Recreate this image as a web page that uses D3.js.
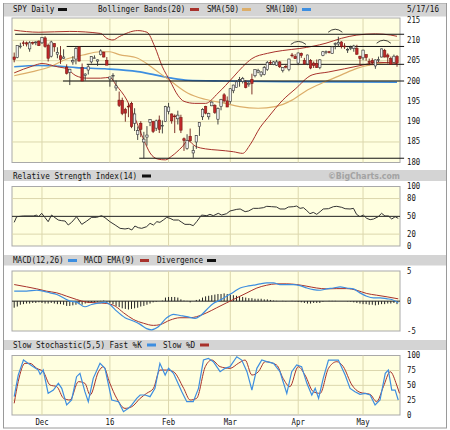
<!DOCTYPE html>
<html><head><meta charset="utf-8">
<script src="https://cdn.jsdelivr.net/npm/d3@7"></script>
<style>body{margin:0;background:#fff}svg{display:block}</style>
</head><body><svg id="c" width="450" height="430"></svg>
<script>
// ---------------- DATA ----------------
const monthTickIdx = [9, 31, 50, 70, 92, 113];
const monthTickLabels = ["Dec", "16", "Feb", "Mar", "Apr", "May"];
const priceTicks = [215, 210, 205, 200, 195, 190, 185, 180];
const rsiTicks = [100, 80, 50, 20, 0];
const macdTicks = [5, 0, -5];
const stochTicks = [100, 75, 50, 25, 0];

const opens = [205.9,205.8,208.6,209.4,209.4,207.9,209.5,209.4,209.8,
 209.4,210.6,208.8,206.1,209.2,206.6,206.2,205.6,203.4,202.1,204.7,205.4,208.4,203.3,201.4,202.7,204.7,205.7,204.9,206.5,207.1,205.1,
 200.5,201.4,198.3,195.3,195.2,193.0,193.8,194.5,189.6,186.8,189.6,185.0,186.2,189.8,190.0,188.4,190.4,189.0,190.0,
 192.5,191.9,191.4,190.7,191.0,185.8,183.4,186.4,182.3,185.0,188.8,191.2,193.7,191.2,193.9,194.0,190.6,193.7,196.6,195.1,
 195.0,197.6,198.4,200.3,199.9,199.6,199.1,200.4,201.3,202.2,201.5,201.6,202.8,204.6,204.1,203.9,204.7,202.6,203.6,202.8,206.4,206.0,
 204.4,206.8,205.1,204.2,205.0,204.4,204.3,203.3,206.3,207.0,207.2,206.8,209.1,209.1,209.6,208.6,207.8,208.1,208.0,208.0,206.1,
 205.7,206.5,204.8,205.0,203.7,205.2,205.9,207.5,206.4,205.5,204.6,206.0];
const highs = [207.0,208.7,209.4,209.9,209.7,209.8,209.7,209.8,210.0,
 210.8,211.0,209.2,209.9,209.3,208.3,208.6,207.8,204.1,203.0,206.1,208.5,208.5,204.3,201.9,203.9,206.1,206.3,205.3,207.8,207.2,205.9,
 201.0,201.9,200.1,197.4,195.9,193.4,194.6,194.9,193.3,188.8,190.1,187.5,188.9,190.6,190.2,190.5,191.5,190.3,193.9,
 194.6,192.0,191.8,192.7,191.7,186.1,186.9,188.3,184.1,186.7,189.8,193.3,193.9,192.2,195.0,194.3,193.5,195.6,197.0,196.2,
 198.2,199.1,200.1,201.0,201.0,200.2,199.8,201.8,202.8,203.0,202.4,203.7,204.9,205.1,204.9,205.2,204.9,203.4,204.0,205.5,206.9,206.6,
 207.0,207.0,205.7,206.5,205.4,204.8,205.3,205.4,207.4,207.5,207.4,208.5,209.5,210.9,209.8,209.3,208.2,208.7,208.9,208.9,206.2,
 207.7,206.6,205.5,205.6,205.3,206.0,208.0,207.9,206.8,206.0,206.5,206.4];
const lows = [204.6,205.6,208.0,208.6,208.5,207.2,208.9,208.8,208.6,
 209.1,208.2,204.8,205.8,207.2,205.6,204.2,205.5,201.6,199.0,204.0,204.1,204.8,200.0,200.1,201.6,204.3,205.5,203.7,206.3,205.8,203.9,
 198.6,200.1,197.6,193.6,191.6,190.0,191.1,188.4,187.7,185.5,186.2,181.0,184.1,188.9,187.2,187.7,187.2,187.1,189.9,
 191.8,189.5,187.2,189.3,187.2,182.8,183.1,185.1,181.1,183.3,186.5,190.4,191.8,190.5,193.8,191.9,189.3,192.8,194.7,193.6,
 194.4,197.0,198.4,198.6,199.4,198.2,198.6,196.7,200.9,201.9,201.0,201.4,202.5,204.0,203.9,203.7,203.2,202.1,203.1,202.4,205.8,205.4,
 203.9,205.7,204.0,203.9,202.9,203.2,203.2,202.9,206.1,206.6,206.8,206.7,207.8,208.4,208.0,207.9,206.9,207.6,207.2,206.4,204.0,
 205.1,205.0,203.9,203.9,203.0,204.6,205.8,205.8,204.3,204.0,204.5,203.5];
const closes = [205.3,208.7,208.6,209.3,209.1,209.4,209.3,209.6,208.7,
 210.7,208.5,205.6,209.6,208.4,207.0,205.3,205.9,201.9,202.9,205.0,208.0,204.9,200.0,201.7,203.5,206.0,205.7,205.2,207.4,205.9,203.9,
 201.0,201.4,198.8,194.0,192.0,192.1,193.7,188.8,191.9,187.8,188.1,185.7,186.7,190.5,187.6,190.2,188.1,189.1,193.7,
 193.6,190.2,191.3,191.6,187.9,185.4,185.4,185.3,182.9,186.6,189.8,193.0,192.1,192.0,194.8,192.3,193.2,195.5,195.1,193.6,
 198.1,199.0,199.8,200.4,200.6,198.4,199.4,199.4,202.8,202.6,202.2,203.3,204.6,204.4,204.7,204.7,203.5,203.3,203.5,205.4,206.3,205.5,
 206.9,206.3,204.2,206.4,203.2,203.8,203.3,205.2,207.2,207.2,207.1,208.4,209.2,209.5,208.5,208.5,207.8,208.2,208.6,206.6,205.5,
 207.6,205.8,204.6,204.5,205.2,205.3,207.9,205.9,205.9,204.1,206.1,204.4];

// [day index, value] readings
const bbUpper = [[0,212.5],[8,212.0],[18,212.2],[28,211.7],[30,210.5],[32,210.1],[34,210.9],[40,212.4],[43,212.0],[45.5,208.5],[48,203.5],[50.5,200],[53,196.5],[55,195.0],[58.5,194.5],[62,194.5],[66,197],[71,201],[74,203.5],[77,205.5],[82,206.8],[87,207.5],[92.5,208],[101,209.3],[106,210.5],[111,211.3],[117,211.6],[122,211.3],[124,211.0]];
const bbLower = [[0,202.0],[6,203.7],[9,204.3],[14,203.5],[17,203.0],[20,201.3],[23.5,200.7],[28,200.7],[31,200.9],[33,199.0],[36.5,195.3],[38.5,192],[42,185.5],[44,182.3],[46.5,180.8],[49,180.6],[51,181.5],[54.4,183.8],[56.3,185.3],[58.6,184.0],[62,183.3],[66,183.0],[71,182.6],[74,182.2],[76.4,184.3],[79.6,188.5],[82.2,191.0],[87,195.3],[91,198.0],[96.5,201.5],[101.7,202.2],[107,203.0],[112.7,203.9],[118,204.6],[124,204.3]];
const sma50 = [[0,201.3],[6,202.3],[11.6,203.5],[17,205.4],[22.3,206.4],[27.8,207.2],[31,207.2],[34,206.5],[40,205.6],[44,203.7],[47,202],[51,199.8],[56.3,197.0],[61.8,195.5],[68.3,194.5],[73,193.7],[79,193.3],[84.5,193.7],[90,195.3],[95,197.8],[100.7,199.8],[106,201.5],[111,203.1],[117,204.2],[124,204.7]];
const sma100 = [[0,203.5],[8,203.8],[15,203.6],[20,203.3],[29.4,203.0],[40,202.3],[45.6,201.5],[51,200.7],[56.3,200.2],[68,200.0],[87,199.8],[124,199.7]];

const supportLevels = [211.5, 208.5, 204.1, 200.0, 181.0];
const supportStartIdx = [0.3, 17, 23.5, 15.8, 40.5];
const supportEndIdx = 126.3;
const peakArcs = [[89.6,94.5,209.0],[101.7,106.3,212.0],[117.4,122,209.3]];

const rsi = [[0,39.9],[0.8,49.4],[3,50.6],[6.2,50.6],[7.3,52.2],[7.8,48.9],[8.9,55.1],[10,47.8],[11,41],[12.1,52.2],[13.2,47.8],[14.3,43.8],[15.4,42.7],[16.5,42.1],[17.5,35.4],[18.6,39.9],[20.2,49.4],[21.9,36.5],[23.5,42.1],[25.1,48.3],[26.7,48.3],[28.3,51.1],[29.4,47.8],[31,41],[32.7,35.4],[34.3,29.8],[35.9,28.7],[37,29.8],[38.1,27],[39.1,33.7],[40.2,30.9],[41.3,29.8],[42.9,32.6],[44,38.2],[45.1,35.4],[46.2,41],[47.2,39.9],[48.3,43.8],[49.4,48.3],[50.5,46.6],[51.6,43.8],[53.2,43.8],[54.3,39.9],[55.3,36.5],[56.9,36.5],[58,34.3],[59.1,41],[60.7,52.2],[62.4,51.1],[63.4,53.4],[64.5,51.1],[66.1,55.1],[67.2,52.2],[68.8,54.5],[69.9,59],[72.1,61.8],[73.2,62.4],[74.8,57.9],[75.9,59],[77.5,63.5],[79.1,63.5],[80.7,64.6],[81.8,66.9],[83.4,66.3],[85,65.7],[86.1,62.4],[87.7,62.4],[88.8,65.7],[90.4,66.3],[91.5,67.4],[92.6,63.5],[93.7,64.6],[94.8,59.6],[95.8,54.5],[96.9,56.7],[98,53.4],[99.1,57.9],[100.1,62.4],[101.8,62.9],[103.4,66.3],[104.5,66.9],[106.1,65.2],[107.2,62.9],[108.8,62.4],[109.9,63.5],[110.9,53.4],[112,49.4],[113.1,52.2],[114.2,46.6],[115.3,44.4],[116.4,45.5],[117.9,49.4],[119,55.1],[120.1,50.6],[121.2,50.6],[122.3,45.5],[123.4,49.4],[124.4,46.6]];

const macd = [[0,1.67],[4,1.67],[7.3,1.83],[9.4,1.67],[11.6,1.39],[13.8,1.11],[15.9,0.56],[18.1,0],[20.2,-0.17],[22.9,-0.94],[25.1,-0.56],[27.8,-0.28],[29.4,-0.17],[31,-0.56],[33.2,-1.67],[35.9,-2.78],[38.6,-3.33],[40.8,-3.89],[42.9,-4.6],[44.5,-4.8],[46.7,-4.3],[49.4,-2.78],[51.6,-2.2],[53.7,-2.4],[55.9,-2.6],[58.6,-2.9],[60.2,-2.5],[62.4,-1.39],[64.5,-0.39],[66.7,0.17],[68.8,0.83],[71,1.5],[73.2,2.2],[75.4,2.5],[77.5,2.67],[79.6,2.9],[81.8,3.06],[84,3.06],[86.1,2.78],[88.3,2.78],[90.4,2.78],[92.6,2.6],[94.8,2.2],[96.9,1.94],[99.1,1.83],[101.2,2.06],[103.4,2.2],[105.6,2.4],[107.7,2.2],[109.9,2.06],[112,1.39],[114.2,0.83],[116.4,0.56],[118.6,0.56],[120.8,0.39],[122.3,0.28],[124.4,-0.28]];
const macdSignal = [[0,2.78],[4,2.4],[7.3,2.06],[10.5,1.67],[13.8,1.39],[17,0.83],[20.2,0.28],[23.5,-0.17],[26.7,-0.28],[30,-0.39],[32.7,-0.83],[35.4,-1.94],[38.6,-3.06],[41.9,-3.7],[45.1,-4.06],[47.2,-3.94],[50.5,-3.17],[53.7,-2.78],[56.9,-2.78],[59.1,-2.6],[62.4,-1.94],[65.6,-1.11],[68.8,-0.28],[72.1,0.56],[75.4,1.39],[78.6,2.2],[81.8,2.67],[85,2.9],[88.3,2.9],[91.5,2.78],[94.8,2.5],[98,2.2],[101.2,2.06],[104.5,2.1],[107.7,2.1],[110.9,1.83],[114.2,1.28],[117.4,1.0],[120.8,0.72],[124.4,0.39]];
const divergence = [-1.1,-0.9,-0.6,-0.5,-0.4,-0.4,-0.3,-0.3,-0.2,-0.3,-0.4,-0.4,-0.3,-0.4,-0.5,-0.5,-0.6,-0.8,-0.8,-0.7,
 -0.6,-0.5,-0.6,-0.4,-0.3,-0.3,-0.2,-0.1,0.05,0.1,-0.1,-0.3,-0.5,-0.8,-1.0,-1.2,-1.3,-1.4,-1.3,-1.2,
 -1.1,-0.9,-0.8,-0.6,-0.4,-0.2,-0.1,0,0.1,0.6,0.7,0.7,0.7,0.6,0.3,0.1,0.05,-0.2,0,0.2,
 0.3,0.6,0.8,0.9,1.0,1.1,1.2,1.2,1.3,1.2,1.1,1.0,0.9,0.8,0.7,0.6,0.5,0.5,0.4,0.4,
 0.4,0.3,0.3,0.2,0.1,0.05,0,0.05,-0.05,0,0.05,-0.05,-0.1,-0.2,-0.3,-0.4,-0.4,-0.3,-0.3,-0.3,
 -0.1,0,0.05,0.05,0.05,0,0,0,-0.05,-0.1,-0.2,-0.3,-0.4,-0.5,-0.5,-0.6,-0.6,-0.7,-0.6,-0.5,
 -0.5,-0.4,-0.4,-0.3,-0.5];

const stochK = [[0,30.9],[1.3,67.4],[3,92.7],[4.6,87],[6.2,81.5],[7.8,75.8],[8.4,68.5],[9.4,75.8],[11,36.5],[12.7,42.1],[14.3,53.4],[15.4,44.9],[17,16.9],[18.6,25.3],[20.2,64.6],[21.3,70.2],[22.9,39.3],[24,22.5],[25.6,61.8],[27.8,87.1],[29.4,78.7],[31.6,25.3],[33.8,22.5],[35.4,5.6],[37,11.2],[38.1,16.9],[39.7,28.1],[40.8,33.7],[42.4,33.7],[44,30.9],[45.6,44.9],[47.2,87.1],[48.9,67.4],[50,78.7],[51.6,70.2],[54.3,39.3],[55.9,22.5],[58,22.5],[59.7,44.9],[61.3,92.7],[62.9,95.5],[64.5,89.9],[66.7,73],[68.3,78.7],[69.9,81.5],[72.1,98.3],[73.7,92.7],[75.4,73],[77,42.1],[78.6,78.7],[80.2,92.7],[81.8,89.9],[84,87.1],[86.1,73],[88.3,36.5],[89.9,73],[91.5,84.3],[93.1,81.5],[94.8,53.4],[96.4,33.7],[97.5,44.9],[98.6,28.1],[100.1,61.8],[101.8,92.7],[105,92.7],[107.2,67.4],[108.8,44.9],[110.4,39.3],[112,34.8],[113.7,36.5],[115.3,33.7],[116.9,16.9],[118.5,25.3],[120.2,70.2],[121.2,75.8],[122.3,42.1],[123.4,42.1],[124.4,25.3]];
const stochD = [[0,19.7],[1.3,56.2],[3.5,87.1],[5.1,87.1],[7.3,78.7],[9.4,73],[11.6,50.6],[13.8,47.8],[16,28.1],[18.1,25.3],[20.8,56.2],[22.9,53.4],[24.6,33.7],[27.3,73],[28.9,81.5],[31,53.4],[33.2,28.1],[35.9,11.2],[38.1,14],[40.8,28.1],[42.9,36.5],[45.1,44.9],[47.2,75.8],[49.4,75.8],[51.6,73],[54.9,44.9],[57,25.3],[59.1,28.1],[61.9,81.5],[64,92.7],[66.7,81.5],[69.9,78.7],[72.6,87.1],[74.8,92.7],[77,67.4],[79.1,73],[81.3,89.9],[85,84.3],[87.1,61.8],[89.3,47.8],[92,81.5],[94.2,67.4],[96.9,39.3],[99.1,36.5],[101.8,78.7],[104.5,89.9],[106.6,81.5],[109.4,50.6],[112,38.2],[115.3,34.8],[117.4,22.5],[119.6,47.8],[121.8,73],[123.9,50.6],[124.8,36.5]];

// ---------------- DRAWING ----------------
const svg = d3.select('#c');
const FONT = "'DejaVu Sans Mono', monospace";
const CW = 4.6;
const CREAM = '#ffffe0', GRID = '#dcd7ad';
const RED = '#a8322c', TAN = '#dcae6a', BLUE = '#3d8ee0';

svg.append('rect').attr('width',450).attr('height',430).attr('fill','#fff');
svg.append('rect').attr('x',3.5).attr('y',3.5).attr('width',443).attr('height',424.5)
  .attr('fill','none').attr('stroke','#9a9a9a');

function txt(x, y, s, o = {}) {
  return svg.append('text').attr('x', x).attr('y', y)
    .attr('font-family', o.family || FONT).attr('font-size', o.size || 8)
    .attr('font-weight', o.weight || 'normal')
    .attr('fill', o.fill || '#111').attr('text-anchor', o.anchor || 'start')
    .attr('dominant-baseline', 'central')
    .attr('textLength', o.len || s.length * CW).attr('lengthAdjust', 'spacingAndGlyphs')
    .text(s);
}
function swatch(x, y, c) {
  svg.append('rect').attr('x', x).attr('y', y - 1.5).attr('width', 9).attr('height', 3).attr('fill', c);
}
function header(y0, y1) {
  svg.append('rect').attr('x', 4).attr('y', y0).attr('width', 442).attr('height', y1 - y0).attr('fill', '#d4d4d4');
}

const x = d3.scaleLinear().domain([0, 124]).range([14.2, 397.0]);
const PX0 = 12, PX1 = 400;

function panel(y0, y1, yScale, ticks, gridVals) {
  const g = svg.append('g');
  g.append('rect').attr('x', PX0).attr('y', y0).attr('width', PX1 - PX0).attr('height', y1 - y0)
    .attr('fill', CREAM).attr('stroke', '#a9a9a9');
  gridVals.forEach(v => g.append('line').attr('x1', PX0).attr('x2', PX1)
    .attr('y1', yScale(v)).attr('y2', yScale(v)).attr('stroke', GRID));
  monthTickIdx.forEach(i => g.append('line').attr('x1', x(i)).attr('x2', x(i))
    .attr('y1', y0).attr('y2', y1).attr('stroke', GRID));
  ticks.forEach(t => txt(407, yScale(t), String(t), { len: String(t).length * 4.4 }));
  return g;
}

// ---- Panel 1: price ----
header(3.5, 16.5);
txt(13, 9.5, 'SPY Daily'); swatch(58, 9.5, '#111');
txt(98, 9.5, 'Bollinger Bands(20)'); swatch(190, 9.5, RED);
txt(207, 9.5, 'SMA(50)'); swatch(242, 9.5, TAN);
txt(266, 9.5, 'SMA(100)', { len: 32 }); swatch(302, 9.5, BLUE);
txt(407, 9.5, '5/17/16', { len: 32 });

const yP = d3.scaleLinear().domain([180, 215.5]).range([162.3, 18]);
const gP = panel(18, 162.5, yP, priceTicks, [185, 190, 195, 200, 205, 210]);

const smooth = (ys) => d3.line().x(d => x(d[0])).y(d => ys(d[1])).curve(d3.curveMonotoneX);
gP.append('path').attr('d', smooth(yP)(sma100)).attr('fill', 'none').attr('stroke', BLUE).attr('stroke-width', 1.6);
gP.append('path').attr('d', smooth(yP)(sma50)).attr('fill', 'none').attr('stroke', TAN).attr('stroke-width', 1.2);
gP.append('path').attr('d', smooth(yP)(bbUpper)).attr('fill', 'none').attr('stroke', RED).attr('stroke-width', 1);
gP.append('path').attr('d', smooth(yP)(bbLower)).attr('fill', 'none').attr('stroke', RED).attr('stroke-width', 1);

supportLevels.forEach((lv, k) => {
  gP.append('line').attr('x1', x(supportStartIdx[k])).attr('x2', x(supportEndIdx))
    .attr('y1', yP(lv)).attr('y2', yP(lv)).attr('stroke', '#111').attr('stroke-width', 1);
});
peakArcs.forEach(a => {
  const xa = x(a[0]), xb = x(a[1]), yb = yP(a[2]);
  gP.append('path').attr('d', `M${xa},${yb} Q${(xa + xb) / 2},${yb - 6} ${xb},${yb}`)
    .attr('fill', 'none').attr('stroke', '#111').attr('stroke-width', 0.8);
});

closes.forEach((c, i) => {
  const o = opens[i], up = c >= o, cx = x(i);
  gP.append('line').attr('x1', cx).attr('x2', cx).attr('y1', yP(highs[i])).attr('y2', yP(lows[i]))
    .attr('stroke', up ? '#333' : '#6e1a14').attr('stroke-width', 0.9);
  const top = yP(Math.max(o, c)), bot = yP(Math.min(o, c));
  gP.append('rect').attr('x', cx - 1.2).attr('width', 2.4).attr('y', top).attr('height', Math.max(0.8, bot - top))
    .attr('fill', up ? '#efefef' : '#c0282a').attr('stroke', up ? '#333' : '#7a1a14').attr('stroke-width', 0.6);
});

// ---- Panel 2: RSI ----
header(170, 181);
txt(13, 176, 'Relative Strength Index(14)'); swatch(142, 176, '#111');
txt(328, 176, '©BigCharts.com', { family: "'DejaVu Sans', sans-serif", weight: 'bold', fill: '#a3a3a3', len: 72, size: 8.5 });
const yR = d3.scaleLinear().domain([0, 100]).range([246, 186.7]);
const gR = panel(186.5, 246, yR, rsiTicks, [20, 80]);
gR.append('line').attr('x1', PX0).attr('x2', PX1).attr('y1', yR(50)).attr('y2', yR(50)).attr('stroke', '#222');
gR.append('path').attr('d', d3.line().x(d => x(d[0])).y(d => yR(d[1]))(rsi))
  .attr('fill', 'none').attr('stroke', '#333').attr('stroke-width', 1);

// ---- Panel 3: MACD ----
header(255, 265.5);
txt(13, 260.5, 'MACD(12,26)'); swatch(68, 260.5, BLUE);
txt(84, 260.5, 'MACD EMA(9)'); swatch(140, 260.5, RED);
txt(157, 260.5, 'Divergence'); swatch(207, 260.5, '#111');
const yM = d3.scaleLinear().domain([-5, 5]).range([331, 271.3]);
const gM = panel(271, 331, yM, macdTicks, []);
divergence.forEach((v, i) => {
  gM.append('line').attr('x1', x(i)).attr('x2', x(i)).attr('y1', yM(0)).attr('y2', yM(v))
    .attr('stroke', '#222').attr('stroke-width', 1);
});
gM.append('line').attr('x1', PX0).attr('x2', PX1).attr('y1', yM(0)).attr('y2', yM(0)).attr('stroke', '#222');
gM.append('path').attr('d', smooth(yM)(macdSignal)).attr('fill', 'none').attr('stroke', RED).attr('stroke-width', 1);
gM.append('path').attr('d', smooth(yM)(macd)).attr('fill', 'none').attr('stroke', BLUE).attr('stroke-width', 1.2);

// ---- Panel 4: Stochastic ----
header(340, 350);
txt(13, 345, 'Slow Stochastic(5,5) Fast %K'); swatch(147, 345, BLUE);
txt(163, 345, 'Slow %D'); swatch(200, 345, RED);
const yS = d3.scaleLinear().domain([0, 100]).range([415, 355.7]);
const gS = panel(355.5, 415, yS, stochTicks, [25, 50, 75]);
gS.append('path').attr('d', smooth(yS)(stochD)).attr('fill', 'none').attr('stroke', RED).attr('stroke-width', 1);
gS.append('path').attr('d', d3.line().x(d => x(d[0])).y(d => yS(d[1]))(stochK))
  .attr('fill', 'none').attr('stroke', BLUE).attr('stroke-width', 1.2);

monthTickIdx.forEach((i, k) => txt(x(i), 422, monthTickLabels[k], { anchor: 'middle', len: monthTickLabels[k].length * 4.4 }));
</script></body></html>
